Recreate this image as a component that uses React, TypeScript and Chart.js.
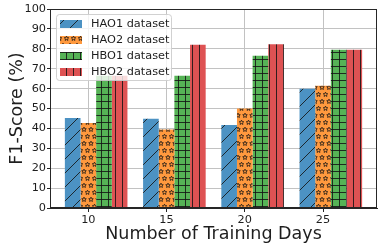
import { useEffect, useRef } from 'react';
import { Chart, registerables } from 'chart.js';

Chart.register(...registerables);

// ---- data ----
const DAYS = [10, 15, 20, 25];
const HAO1 = [45.2, 44.8, 41.7, 59.9];
const HAO2 = [42.7, 39.5, 50.0, 61.4];
const HBO1 = [66.5, 66.5, 76.5, 79.5];
const HBO2 = [66.5, 82.0, 82.3, 79.5];
const SERIES_LABELS = ['HAO1 dataset', 'HAO2 dataset', 'HBO1 dataset', 'HBO2 dataset'];
const X_TITLE = 'Number of Training Days';
const Y_TITLE = 'F1-Score (%)';

// ---- style ----
const FONT = '"DejaVu Sans", sans-serif';
const TEXT = '#1e1e1e';
const GRID = '#c2c2c2';
const SPINE = '#262626';
const HATCH = 'rgba(20,20,20,0.85)';
const COLORS = ['rgba(31,119,180,0.8)', 'rgba(255,127,14,0.8)', 'rgba(44,160,44,0.8)', 'rgba(214,39,40,0.8)'];
const HATCHES = ['/', '*', '+', '|'];
const GROUP_SHIFT = 0.5; // half a bar, in day units

function makePattern(kind: string, color: string): CanvasPattern | string {
  const c = document.createElement('canvas');
  let w = 7, h = 7;
  if (kind === '/') { w = 14; h = 14; }
  if (kind === '*') { w = 7; h = 14; }
  c.width = w; c.height = h;
  const g = c.getContext('2d');
  if (!g) return color;
  g.fillStyle = '#ffffff';
  g.fillRect(0, 0, w, h);
  g.fillStyle = color;
  g.fillRect(0, 0, w, h);
  g.strokeStyle = HATCH;
  g.lineWidth = 1;
  g.beginPath();
  if (kind === '/') {
    for (let k = -1; k <= 1; k++) {
      g.moveTo(k * w, h);
      g.lineTo(k * w + w, 0);
    }
  } else if (kind === '+') {
    g.moveTo(3.5, 0); g.lineTo(3.5, h);
    g.moveTo(0, 3.5); g.lineTo(w, 3.5);
  } else if (kind === '|') {
    g.moveTo(3.5, 0); g.lineTo(3.5, h);
  }
  g.stroke();
  if (kind === '*') {
    const star = (cx: number, cy: number) => {
      const ro = 2.4, ri = 1.1;
      g.beginPath();
      for (let i = 0; i < 10; i++) {
        const r = i % 2 === 0 ? ro : ri;
        const a = -Math.PI / 2 + (i * Math.PI) / 5;
        const px = cx + r * Math.cos(a), py = cy + r * Math.sin(a);
        if (i === 0) g.moveTo(px, py); else g.lineTo(px, py);
      }
      g.closePath();
      g.stroke();
    };
    g.lineWidth = 0.9;
    for (const [sx, sy] of [[0, 3.5], [7, 3.5], [3.5, 10.5]]) star(sx, sy);
  }
  const p = g.createPattern(c, 'repeat');
  return p || color;
}

export default function App() {
  const ref = useRef<HTMLCanvasElement | null>(null);

  useEffect(() => {
    if (!ref.current) return;
    const series = [HAO1, HAO2, HBO1, HBO2];
    const patterns = HATCHES.map((hk, i) => makePattern(hk, COLORS[i]));

    const framePlugin = {
      id: 'frameAndLegend',
      afterDraw(chart: any) {
        const { ctx, chartArea: a } = chart;
        ctx.save();
        ctx.strokeStyle = SPINE;
        ctx.lineWidth = 1;
        ctx.strokeRect(Math.round(a.left) + 0.5, Math.round(a.top) + 0.5, Math.round(a.right - a.left) - 1, Math.round(a.bottom - a.top) - 1);
        // legend
        const lx = a.left + 6.5, ly = a.top + 5.5, lw = 115, lh = 66;
        ctx.beginPath();
        ctx.roundRect(lx, ly, lw, lh, 3);
        ctx.fillStyle = 'rgba(255,255,255,0.8)';
        ctx.fill();
        ctx.strokeStyle = 'rgba(204,204,204,0.9)';
        ctx.stroke();
        ctx.font = `11.3px ${FONT}`;
        ctx.textBaseline = 'middle';
        ctx.textAlign = 'left';
        SERIES_LABELS.forEach((lab, i) => {
          const py = a.top + 11 + 16 * i;
          ctx.fillStyle = patterns[i];
          ctx.fillRect(a.left + 10, py, 22, 8);
          ctx.fillStyle = TEXT;
          ctx.fillText(lab, a.left + 41, py + 4.5);
        });
        ctx.restore();
      },
    };

    const chart = new Chart(ref.current, {
      type: 'bar',
      data: {
        datasets: series.map((vals, i) => ({
          label: SERIES_LABELS[i],
          data: DAYS.map((d, j) => ({ x: d + GROUP_SHIFT, y: vals[j] })),
          backgroundColor: patterns[i] as any,
          borderWidth: 0,
          categoryPercentage: 0.8,
          barPercentage: 1,
        })),
      },
      options: {
        animation: false,
        responsive: false,
        devicePixelRatio: 1,
        layout: { padding: { top: 9, right: 5, left: 0, bottom: 0 } },
        plugins: { legend: { display: false }, tooltip: { enabled: false } },
        scales: {
          x: {
            type: 'linear',
            min: 7.55,
            max: 28.45,
            offset: false,
            z: 1,
            afterBuildTicks: (s: any) => { s.ticks = DAYS.map((v) => ({ value: v })); },
            afterFit: (s: any) => { s.height = 41; },
            ticks: { callback: (v: any) => String(v), font: { family: FONT, size: 11.3 }, color: TEXT, padding: 1, autoSkip: false, maxRotation: 0 },
            grid: { color: GRID, lineWidth: 1, tickLength: 4, tickColor: SPINE, offset: false },
            border: { color: SPINE, width: 1 },
            title: { display: true, text: X_TITLE, font: { family: FONT, size: 17.5 }, color: TEXT, padding: { top: 0, bottom: 4 } },
          },
          y: {
            type: 'linear',
            min: 0,
            max: 100,
            z: 1,
            afterFit: (s: any) => { s.width = 50; },
            ticks: { stepSize: 10, font: { family: FONT, size: 11.3 }, color: TEXT, padding: 1 },
            grid: { color: GRID, lineWidth: 1, tickLength: 3, tickColor: SPINE },
            border: { color: SPINE, width: 1 },
            title: { display: true, text: Y_TITLE, font: { family: FONT, size: 17.5 }, color: TEXT, padding: { top: 7, bottom: 0 } },
          },
        },
      } as any,
      plugins: [framePlugin],
    });
    return () => chart.destroy();
  }, []);

  return (
    <div style={{ position: 'fixed', left: 0, top: 0, width: 382, height: 249, background: '#fff' }}>
      <canvas ref={ref} width={382} height={249} style={{ display: 'block', width: 382, height: 249 }} />
    </div>
  );
}
